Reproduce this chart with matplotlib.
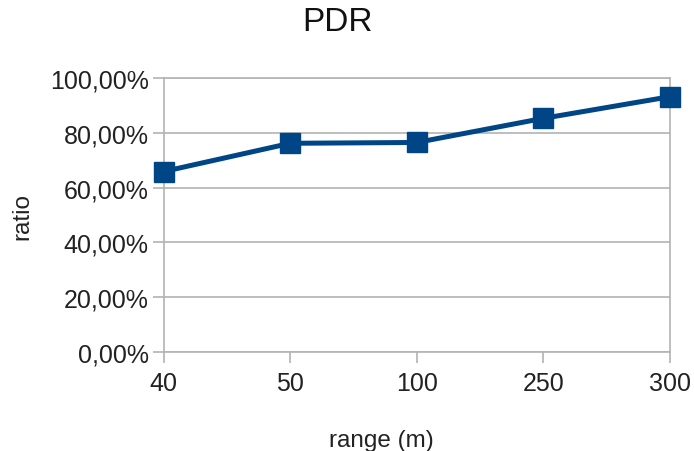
import matplotlib
matplotlib.use("Agg")
from matplotlib import pyplot as plt
from matplotlib.ticker import FuncFormatter

# PDR vs range
ranges = ['40', '50', '100', '250', '300']
pdr = [0.659, 0.762, 0.765, 0.853, 0.932]

plt.rcParams['font.family'] = ['Liberation Sans', 'DejaVu Sans']

fig = plt.figure(figsize=(6.94, 4.52), dpi=100)
ax = fig.add_axes([0.236, 0.219, 0.729, 0.606])

x = list(range(len(ranges)))
ax.plot(x, pdr, color='#004586', lw=3.6, marker='s', ms=15, zorder=3, clip_on=False)

ax.set_xlim(0, len(ranges) - 1)
ax.set_ylim(0, 1)
ax.set_yticks([0, 0.2, 0.4, 0.6, 0.8, 1.0])
ax.yaxis.set_major_formatter(FuncFormatter(lambda v, p: ('%.2f%%' % (v * 100)).replace('.', ',')))
ax.set_xticks(x)
ax.set_xticklabels(ranges)

ax.grid(axis='y', color='#b3b3b3', lw=1.2)
for s in ax.spines.values():
    s.set_color('#b3b3b3')
    s.set_linewidth(1.2)
ax.tick_params(axis='both', length=8, width=1.2, color='#b3b3b3', labelsize=18, labelcolor='#222222')
ax.tick_params(axis='y', pad=3)
ax.tick_params(axis='x', pad=6)

# title is centred on the whole figure
fig.text(0.487, 0.951, 'PDR', fontsize=24, color='#111111', ha='center', va='center')
ax.set_xlabel('range (m)', fontsize=17.5, color='#222222')
ax.xaxis.set_label_coords(0.43, -0.28)
ax.set_ylabel('ratio', fontsize=17.5, labelpad=12, color='#222222')

fig.savefig('out.png', dpi=100)
